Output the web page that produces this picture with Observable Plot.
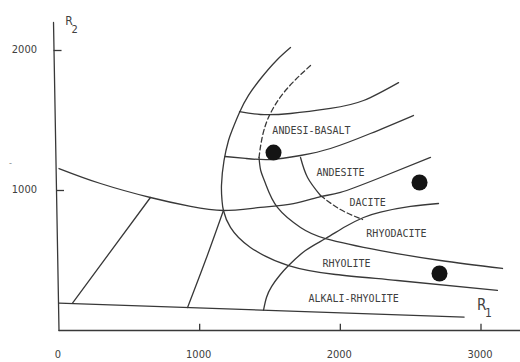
<!DOCTYPE html>
<html>
<head>
<meta charset="utf-8">
<script src="https://cdn.jsdelivr.net/npm/d3@7"></script>
<script src="https://cdn.jsdelivr.net/npm/@observablehq/plot@0.6"></script>
<style>
  html, body { margin: 0; padding: 0; background: #fff; }
  #chart svg { display: block; }
</style>
</head>
<body>
<div id="chart"></div>
<script>
// R1–R2 classification fields for volcanic rocks; boundaries as [R1, R2] pairs.
const baseLine        = [[0, 196], [2880, 96]];
const upperLeftLine   = [[0, 1157], [295, 1050], [650, 950], [935, 886], [1169, 857], [1432, 879], [1667, 907], [1859, 957], [2001, 986], [2286, 1093], [2641, 1236]];
const leftDiagonal    = [[96, 196], [650, 950]];
const middleDiagonal  = [[914, 164], [1045, 510], [1169, 857]];
const outerArc        = [[1646, 2021], [1546, 1929], [1440, 1807], [1347, 1679], [1283, 1557], [1230, 1429], [1205, 1357], [1173, 1214], [1155, 1036], [1159, 929], [1169, 857], [1219, 736], [1361, 593], [1632, 464], [1966, 400], [2406, 357], [3117, 286]];
const innerArcDashed  = [[1788, 1893], [1610, 1714], [1489, 1521], [1440, 1357], [1422, 1236]];
const innerArcSolid   = [[1422, 1236], [1434, 1143], [1468, 1050], [1553, 879], [1717, 736], [1895, 657], [2286, 571], [2712, 500], [3153, 443]];
const andesiteArc     = [[1717, 1236], [1767, 1093], [1859, 964]];
const andesiteArcDash = [[1859, 964], [2001, 864], [2158, 793]];
const rhyoliteArc     = [[1454, 146], [1475, 236], [1511, 314], [1568, 393], [1632, 464], [1752, 571], [1895, 657], [2037, 743], [2165, 807], [2286, 846], [2499, 886], [2698, 907]];
const basaltTopLine   = [[1283, 1564], [1432, 1543], [1646, 1550], [1930, 1586], [2165, 1643], [2414, 1771]];
const basaltBaseLine  = [[1180, 1243], [1326, 1229], [1504, 1221], [1717, 1250], [1930, 1300], [2214, 1407], [2520, 1536]];

// Field names and where they sit
const fieldNames = ["ANDESI-BASALT", "ANDESITE", "DACITE", "RHYODACITE", "RHYOLITE", "ALKALI-RHYOLITE"];
const fieldR1    = [1795, 2001, 2194, 2399, 2044, 2094];
const fieldR2    = [1429, 1129, 914, 693, 479, 229];

// Samples
const sampleR1 = [1525, 2563, 2705];
const sampleR2 = [1271, 1057, 407];

// Axes
const xTicks = [1000, 2000, 3000];
const xTickLabels = ["0", "1000", "2000", "3000"];
const xTickLabelValues = [0, 1000, 2000, 3000];
const yTicks = [1000, 2000];
const yTickLabels = ["1000", "2000"];
const yAxisLine = [[0, 0], [-39, 2200]];
const xAxisLine = [[0, 0], [3300, 0]];

const strokeColor = "#383838";
const textColor = "#404040";
const mono = "'DejaVu Sans Mono', 'Liberation Mono', monospace";
const narrow = "'Liberation Sans Narrow', 'DejaVu Sans Condensed', sans-serif";

// The y axis leans slightly; its R1 offset at a given height
const yAxisAt = r2 => yAxisLine[0][0] + (yAxisLine[1][0] - yAxisLine[0][0]) * r2 / yAxisLine[1][1];

const px = d => d[0], py = d => d[1];
const solid = (data, extra = {}) => Plot.line(data, {x: px, y: py, curve: "natural", stroke: strokeColor, strokeWidth: 1.3, ...extra});
const dashed = data => solid(data, {strokeDasharray: "5,3"});

const fields = fieldNames.map((name, i) => ({name, r1: fieldR1[i], r2: fieldR2[i]}));
const samples = sampleR1.map((r1, i) => ({r1, r2: sampleR2[i]}));

const chart = Plot.plot({
  width: 520,
  height: 362,
  marginTop: 0, marginRight: 0, marginBottom: 0, marginLeft: 0,
  style: {background: "#fff", overflow: "visible"},
  x: {domain: [0, 3000], range: [58.5, 480.5], axis: null},
  y: {domain: [0, 2000], range: [330, 50], axis: null},
  marks: [
    // axes
    Plot.line(yAxisLine, {x: px, y: py, stroke: strokeColor, strokeWidth: 1.3}),
    Plot.line(xAxisLine, {x: px, y: py, stroke: strokeColor, strokeWidth: 1.3}),
    Plot.ruleX(xTicks, {x: d => d, y1: 0, y2: 45, stroke: strokeColor, strokeWidth: 1.3}),
    Plot.ruleY(yTicks, {y: d => d, x1: d => yAxisAt(d), x2: d => yAxisAt(d) + 57, stroke: strokeColor, strokeWidth: 1.3}),
    Plot.text(xTickLabelValues, {x: d => d, y: 0, text: (d, i) => xTickLabels[i], dy: 24, dx: -1, fontFamily: narrow, fontSize: 11, fill: textColor}),
    Plot.text(yTicks, {x: 0, y: d => d, text: (d, i) => yTickLabels[i], textAnchor: "end", dx: -22, dy: -1, fontFamily: narrow, fontSize: 11, fill: textColor}),
    Plot.text(["-"], {x: -345, y: 1193, text: d => d, fontFamily: narrow, fontSize: 9, fill: "#888"}),
    // axis titles R1, R2
    Plot.text(["R"], {x: 71, y: 2207, text: d => d, fontFamily: narrow, fontSize: 12, fill: textColor}),
    Plot.text(["2"], {x: 112, y: 2152, text: d => d, fontFamily: narrow, fontSize: 11, fill: textColor}),
    Plot.text(["R"], {x: 3004, y: 179, text: d => d, fontFamily: narrow, fontSize: 15, fill: textColor}),
    Plot.text(["1"], {x: 3052, y: 126, text: d => d, fontFamily: narrow, fontSize: 12, fill: textColor}),
    // field boundaries
    solid(baseLine),
    solid(upperLeftLine),
    solid(leftDiagonal),
    solid(middleDiagonal),
    solid(outerArc),
    dashed(innerArcDashed),
    solid(innerArcSolid),
    solid(andesiteArc),
    dashed(andesiteArcDash),
    solid(rhyoliteArc),
    solid(basaltTopLine),
    solid(basaltBaseLine),
    // field names
    Plot.text(fields, {x: "r1", y: "r2", text: "name", fontFamily: mono, fontSize: 10, fill: textColor}),
    // samples
    Plot.dot(samples, {x: "r1", y: "r2", r: 8, fill: "#141414", stroke: "none"})
  ]
});

document.getElementById("chart").append(chart);
</script>
</body>
</html>
